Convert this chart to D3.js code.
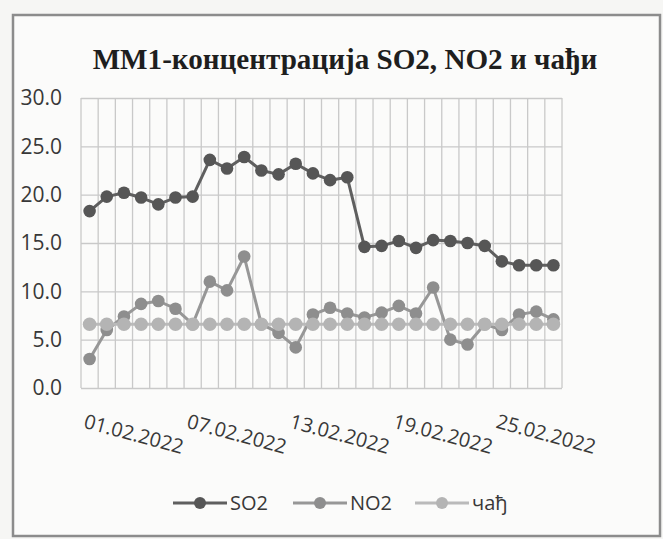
<!DOCTYPE html>
<html lang="sr">
<head>
    <meta charset="UTF-8">
    <title>MM1</title>
    <style>
        body{
            margin: 0;
            background: #f6f6f4;
        }
        svg{
            display: block;
        }
        .title{
            font-family: "Liberation Serif", serif;
            font-weight: bold;
            fill: #1e1e1e;
        }
        .tick text, .legend-label{
            font-family: "Open Sans", sans-serif;
            fill: #383838;
        }
        .grid line{
            stroke: #c9c9c9;
            stroke-width: 1.3;
        }
    </style>
    <script src="https://d3js.org/d3.v7.min.js"></script>
</head>
<body>
    <script>
        var dates = ["01.02.2022","02.02.2022","03.02.2022","04.02.2022","05.02.2022","06.02.2022","07.02.2022",
                     "08.02.2022","09.02.2022","10.02.2022","11.02.2022","12.02.2022","13.02.2022","14.02.2022",
                     "15.02.2022","16.02.2022","17.02.2022","18.02.2022","19.02.2022","20.02.2022","21.02.2022",
                     "22.02.2022","23.02.2022","24.02.2022","25.02.2022","26.02.2022","27.02.2022","28.02.2022"];
        var so2 = [18.3, 19.8, 20.2, 19.7, 19.0, 19.7, 19.8, 23.6, 22.7, 23.9, 22.5, 22.1, 23.2, 22.2,
                   21.5, 21.8, 14.6, 14.7, 15.2, 14.5, 15.3, 15.2, 15.0, 14.7, 13.1, 12.7, 12.7, 12.7];
        var no2 = [3.0, 6.0, 7.4, 8.7, 9.0, 8.2, 6.6, 11.0, 10.1, 13.6, 6.6, 5.7, 4.2, 7.6,
                   8.3, 7.7, 7.3, 7.8, 8.5, 7.7, 10.4, 5.0, 4.5, 6.6, 6.0, 7.6, 7.9, 7.1];
        var cadj = [6.6, 6.6, 6.6, 6.6, 6.6, 6.6, 6.6, 6.6, 6.6, 6.6, 6.6, 6.6, 6.6, 6.6,
                    6.6, 6.6, 6.6, 6.6, 6.6, 6.6, 6.6, 6.6, 6.6, 6.6, 6.6, 6.6, 6.6, 6.6];
        var seriesNames = ["SO2", "NO2", "чађ"];
        var xTickLabels = ["01.02.2022", "07.02.2022", "13.02.2022", "19.02.2022", "25.02.2022"];
        var yTicks = [0, 5, 10, 15, 20, 25, 30];

        var W = 663, H = 539;
        var plotL = 81, plotR = 562, plotT = 98, plotB = 388;
        var lineColors = ["#5f5f5f", "#979797", "#bababa"];
        var dotColors = ["#565656", "#8e8e8e", "#b4b4b4"];

        var svg = d3.select("body").append("svg")
                    .attr("width", W)
                    .attr("height", H);

        // chart frame
        svg.append("rect")
            .attr("x", 13).attr("y", 15)
            .attr("width", 647).attr("height", 521)
            .attr("fill", "#fbfbfa")
            .attr("stroke", "#8c8c8c")
            .attr("stroke-width", 2.5);

        var title = svg.append("text")
            .attr("class", "title")
            .attr("x", 345)
            .attr("y", 69)
            .attr("text-anchor", "middle")
            .style("font-size", "26px")
            .text("ММ1-концентрација SO2, NO2 и чађи");
        // fit title to the width seen in the picture
        var tw = title.node().getComputedTextLength();
        title.style("font-size", (26 * 505 / tw) + "px");

        var x = d3.scaleBand().domain(dates).range([plotL, plotR]);
        var y = d3.scaleLinear().domain([0, 30]).range([plotB, plotT]);

        // horizontal grid + y labels
        var yAxis = svg.append("g")
            .attr("class", "grid")
            .attr("transform", "translate(" + plotL + ",0)")
            .call(d3.axisLeft(y).tickValues(yTicks).tickFormat(d3.format(".1f"))
                    .tickSize(-(plotR - plotL)).tickPadding(19));
        yAxis.select(".domain").remove();
        yAxis.selectAll(".tick text").style("font-size", "21px");

        // vertical grid between categories
        var vGrid = svg.append("g").attr("class", "grid");
        vGrid.selectAll("line")
            .data(dates.concat(["end"]))
            .enter().append("line")
            .attr("x1", function(d){ return d === "end" ? plotR : x(d); })
            .attr("x2", function(d){ return d === "end" ? plotR : x(d); })
            .attr("y1", plotT)
            .attr("y2", plotB);

        // x labels
        var xAxis = svg.append("g")
            .attr("transform", "translate(0," + plotB + ")")
            .call(d3.axisBottom(x).tickValues(xTickLabels).tickSize(0));
        xAxis.select(".domain").remove();
        xAxis.selectAll(".tick text")
            .style("font-size", "20px")
            .attr("text-anchor", "start")
            .attr("y", 0)
            .attr("dy", "0.75em")
            .attr("transform", "translate(-3,25) rotate(15)");

        var allSeries = [so2, no2, cadj];
        var radii = [6.3, 6.3, 6.8];
        var line = d3.line()
            .x(function(d, i){ return x(dates[i]) + x.bandwidth() / 2; })
            .y(function(d){ return y(d); });

        for (var s = 0; s < allSeries.length; s++) {
            var g = svg.append("g");
            g.append("path")
                .datum(allSeries[s])
                .attr("fill", "none")
                .attr("stroke", lineColors[s])
                .attr("stroke-width", 3)
                .attr("stroke-linejoin", "round")
                .attr("d", line);
            g.selectAll("circle")
                .data(allSeries[s])
                .enter().append("circle")
                .attr("cx", function(d, i){ return x(dates[i]) + x.bandwidth() / 2; })
                .attr("cy", function(d){ return y(d); })
                .attr("r", radii[s])
                .attr("fill", dotColors[s]);
        }

        // legend
        var legX = [173, 293, 415];
        var legend = svg.append("g").attr("transform", "translate(0,503)");
        for (var k = 0; k < seriesNames.length; k++) {
            legend.append("line")
                .attr("x1", legX[k]).attr("x2", legX[k] + 54)
                .attr("y1", 0).attr("y2", 0)
                .attr("stroke", lineColors[k])
                .attr("stroke-width", 3);
            legend.append("circle")
                .attr("cx", legX[k] + 27).attr("cy", 0)
                .attr("r", 6)
                .attr("fill", dotColors[k]);
            legend.append("text")
                .attr("class", "legend-label")
                .attr("x", legX[k] + 57)
                .attr("y", 0)
                .attr("dy", "0.35em")
                .style("font-size", "20px")
                .text(seriesNames[k]);
        }
    </script>
</body>
</html>
